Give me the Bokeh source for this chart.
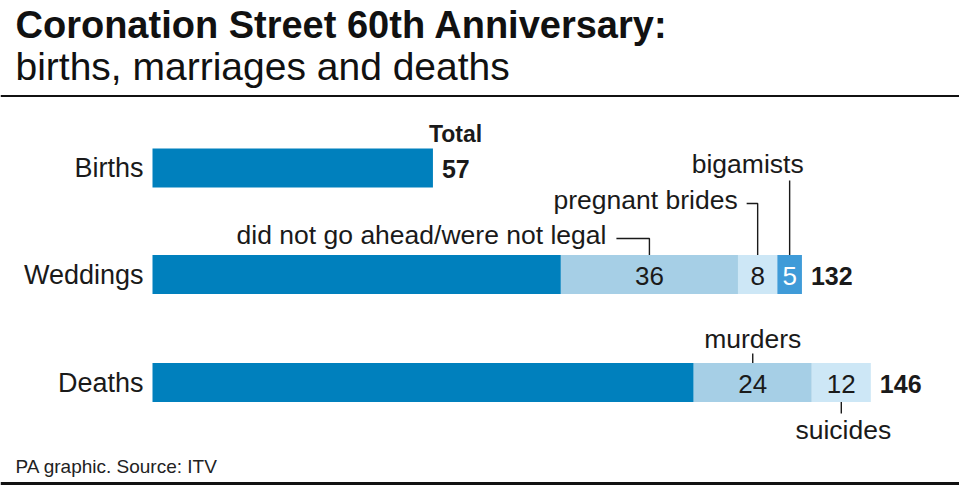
from bokeh.plotting import figure
from bokeh.models import Range1d, Span
from bokeh.core.properties import value
from bokeh.embed import file_html
from bokeh.resources import INLINE

# ---------------- data ----------------
categories = ["Births", "Weddings", "Deaths"]
totals = [57, 132, 146]
wedding_parts = [36, 8, 5]
wedding_labels = ["did not go ahead/were not legal", "pregnant brides", "bigamists"]
death_parts = [24, 12]
death_labels = ["murders", "suicides"]

title_text = "Coronation Street 60th Anniversary:"
subtitle_text = "births, marriages and deaths"
total_header = "Total"
source_text = "PA graphic. Source: ITV"

# ---------------- layout / style ----------------
W, H = 959, 491
PX = 4.92            # pixels per unit
ZERO_REF = 152       # pixel x of value 0
FONT = "Liberation Sans"
INK = "#1a1a1a"
DARK = "#0080bd"
MID = "#a6cfe6"
LIGHT = "#cde7f6"
BRIGHT = "#3f9bd8"
BASE_FIX = 0.33      # baseline correction (fraction of font size)

ROW_Y = {"Births": 167.5, "Weddings": 274.0, "Deaths": 382.0}
BAR_H = 39


def refx(xref):
    return (xref - ZERO_REF) / PX


def dpx(n):
    return n / PX


p = figure(width=W, height=H, output_backend="svg", toolbar_location=None,
           x_range=Range1d(refx(0), refx(W)), y_range=Range1d(H, 0),
           min_border=0)
p.axis.visible = False
p.grid.visible = False
p.outline_line_color = None
p.background_fill_color = "white"
p.border_fill_color = "white"


def txt(x, y, s, size, align="left", bold=False, color=INK, x_offset=0):
    p.text(x=[x], y=[y - BASE_FIX * size], text=[s], text_font=value(FONT),
           text_font_size=value(f"{size}px"),
           text_font_style="bold" if bold else "normal",
           text_align=align, text_baseline="alphabetic", text_color=color,
           x_offset=x_offset)


# Title
txt(refx(15), 37, title_text, 38, bold=True, color="#111111")
txt(refx(15), 79, subtitle_text, 39, color="#111111")
p.add_layout(Span(location=95.5, dimension="width", line_color="#111111", line_width=2))
p.add_layout(Span(location=483, dimension="width", line_color="#111111", line_width=3))
txt(refx(15), 472, source_text, 19, color="#222222")

parts_by_cat = {"Births": [], "Weddings": wedding_parts, "Deaths": death_parts}
colors_by_cat = {"Births": [], "Weddings": [MID, LIGHT, BRIGHT], "Deaths": [MID, LIGHT]}
numcol_by_cat = {"Births": [], "Weddings": [INK, INK, "white"], "Deaths": [INK, INK]}

centers = {}
for cat, tot in zip(categories, totals):
    y = ROW_Y[cat]
    parts = parts_by_cat[cat]
    base = tot - sum(parts)
    p.hbar(y=[y], left=[0], right=[base], height=BAR_H, fill_color=DARK, line_color=None)
    start = base
    cs = []
    for v, c, tc in zip(parts, colors_by_cat[cat], numcol_by_cat[cat]):
        p.hbar(y=[y], left=[start], right=[start + v], height=BAR_H, fill_color=c, line_color=None)
        cx = start + v / 2
        cs.append(cx)
        txt(cx, y + 10.5, str(v), 26, align="center", color=tc)
        start += v
    centers[cat] = cs
    # category label
    txt(refx(143), y + 9, cat, 27, align="right")
    # total
    txt(tot, y + 9.5, str(tot), 25, bold=True, x_offset=9)

# "Total" header
txt(totals[0], 141, total_header, 23, bold=True, x_offset=-4)

ANN = 26.5
# ---- Weddings annotations ----
wy_top = ROW_Y["Weddings"] - BAR_H / 2
c0, c1, c2 = centers["Weddings"]
p.line(x=[c0 - dpx(33), c0, c0], y=[238, 238, wy_top], line_color=INK, line_width=1.4)
txt(c0 - dpx(43), 243, wedding_labels[0], ANN, align="right")
p.line(x=[c1 - dpx(11), c1, c1], y=[203, 203, wy_top], line_color=INK, line_width=1.4)
txt(c1 - dpx(20), 208, wedding_labels[1], ANN, align="right")
p.line(x=[c2, c2], y=[180, wy_top], line_color=INK, line_width=1.4)
txt(c2 + dpx(14), 172, wedding_labels[2], ANN, align="right")

# ---- Deaths annotations ----
dy_top = ROW_Y["Deaths"] - BAR_H / 2
dy_bot = ROW_Y["Deaths"] + BAR_H / 2
d0, d1 = centers["Deaths"]
p.line(x=[d0, d0], y=[353, dy_top], line_color=INK, line_width=1.4)
txt(d0, 347, death_labels[0], ANN, align="center")
p.line(x=[d1, d1], y=[dy_bot, 413], line_color=INK, line_width=1.4)
txt(d1 + dpx(2), 438, death_labels[1], ANN, align="center")

open("out.html", "w").write(file_html(p, INLINE))
